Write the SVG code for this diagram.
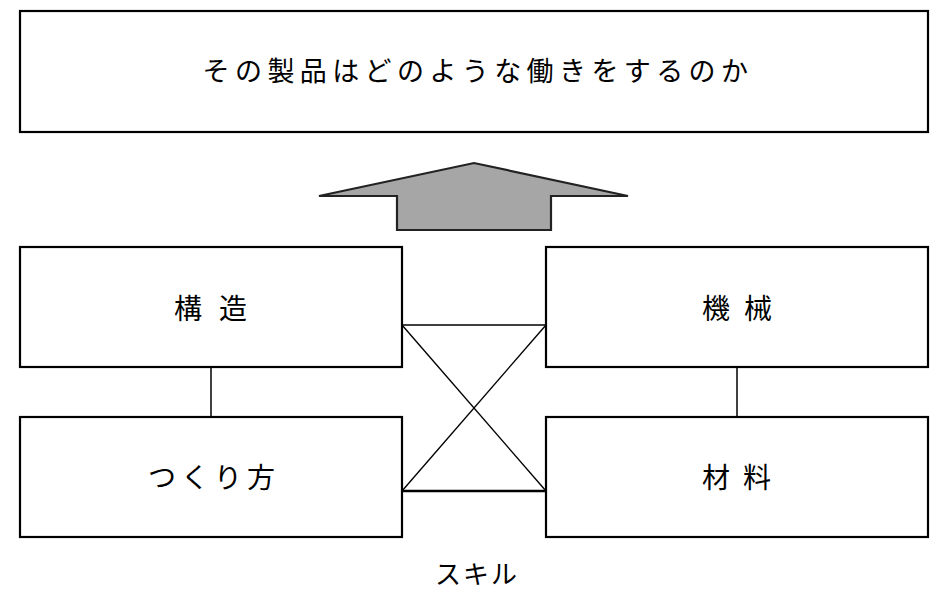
<svg xmlns="http://www.w3.org/2000/svg" width="944" height="591" viewBox="0 0 944 591">
<style>
.box{fill:#fff;stroke:#000;stroke-width:2.2}
.t{font-family:"Noto Sans CJK JP","Noto Sans",sans-serif;font-size:28px;fill:#000;text-anchor:middle;dominant-baseline:central}
.ln{stroke:#000;fill:none}
</style>
<rect width="944" height="591" fill="#fff"/>
<g id="goal">
<rect class="box" x="20" y="11" width="908" height="121"/>
<text class="t" x="478" y="69" style="font-size:27px;letter-spacing:5.4px">その製品はどのような働きをするのか</text>
</g>
<g id="arrow">
<polygon points="319,196 474,163 628,196 551,196 551,230 397,230 397,196" fill="#a6a6a6" stroke="#222" stroke-width="2.2" stroke-linejoin="miter"/>
</g>
<g id="kozo">
<rect class="box" x="20" y="247" width="382" height="120"/>
<text class="t" x="219" y="307" style="letter-spacing:17px">構造</text>
</g>
<g id="kikai">
<rect class="box" x="546" y="247" width="382" height="120"/>
<text class="t" x="744" y="307" style="letter-spacing:14px">機械</text>
</g>
<g id="tsukurikata">
<rect class="box" x="20" y="417" width="382" height="120"/>
<text class="t" x="214" y="476" style="letter-spacing:5px">つくり方</text>
</g>
<g id="zairyo">
<rect class="box" x="546" y="417" width="382" height="120"/>
<text class="t" x="743" y="476" style="letter-spacing:13px">材料</text>
</g>
<g id="skill">
<text class="t" x="477" y="572" style="font-size:26px;letter-spacing:2px">スキル</text>
</g>
<g id="connectors">
<line class="ln" x1="211" y1="367" x2="211" y2="417" stroke-width="1.5"/>
<line class="ln" x1="737" y1="367" x2="737" y2="417" stroke-width="1.5"/>
<line class="ln" x1="402" y1="325" x2="546" y2="325" stroke-width="1.6"/>
<line class="ln" x1="402" y1="491" x2="546" y2="491" stroke-width="2.5"/>
<line class="ln" x1="402" y1="325" x2="546" y2="491" stroke-width="1.4"/>
<line class="ln" x1="546" y1="325" x2="402" y2="491" stroke-width="1.4"/>
</g>
</svg>
